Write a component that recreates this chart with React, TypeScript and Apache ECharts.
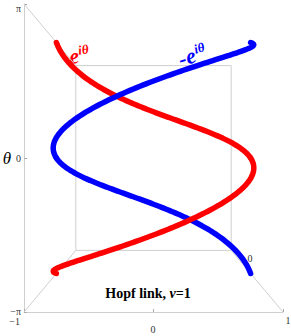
import React, { useEffect, useRef } from "react";
import * as echarts from "echarts";

// Axis tick labels
const xTickLabels = ["−1", "0", "1"];
const thetaTickLabels = ["π", "0", "−π"];
const depthTickLabels = ["0"];
// Curves: z = sign * e^{iθ}, plotted as (Re z, Im z, θ)
const curveLabels = ["e", "-e"];
const curveSigns = [1, -1];
const curveColors = ["#ff0000", "#0000ff"];
const titleText = ["Hopf link, ", "ν", "=1"];
const thetaStart = -Math.PI;
const thetaEnd = Math.PI;
const sampleCount = 240;

// perspective projection of the 3D box (x in [-1,1], depth in [-1,1], θ in [-π,π])
function project(x: number, d: number, th: number): [number, number] {
  const s = 1 / (1 + (d + 1) / 3);
  return [s * x, (s * th) / Math.PI];
}

function curvePoints(sign: number, from: number, to: number): [number, number][] {
  const pts: [number, number][] = [];
  for (let i = 0; i <= sampleCount; i++) {
    const th = thetaStart + ((thetaEnd - thetaStart) * i) / sampleCount;
    if (th < from - 1e-9 || th > to + 1e-9) continue;
    pts.push(project(sign * Math.cos(th), sign * Math.sin(th), th));
  }
  return pts;
}

const P = Math.PI;
const boxEdges: [number, number, number][][] = [
  [[-1, 1, -P], [1, 1, -P], [1, 1, P], [-1, 1, P], [-1, 1, -P]],
  [[-1, -1, P], [-1, 1, P]],
  [[-1, -1, -P], [-1, 1, -P]],
  [[1, -1, -P], [1, 1, -P]],
];

export default function App() {
  const ref = useRef<HTMLDivElement>(null);
  useEffect(() => {
    if (!ref.current) return;
    const chart = echarts.init(ref.current, undefined, { renderer: "svg" });
    const gray = "#cfcfcf";
    const serif = "'Liberation Serif', 'Times New Roman', serif";
    const series: any[] = [];
    boxEdges.forEach((edge) => {
      series.push({
        type: "line",
        data: edge.map((p) => project(p[0], p[1], p[2])),
        symbol: "none",
        silent: true,
        clip: false,
        lineStyle: { color: gray, width: 1 },
      });
    });
    // draw order by depth: far halves first, near halves last
    const segs: [number, number, number][] = [
      [0, 0, P], // red upper (far)
      [1, -P, 0], // blue lower (far)
      [1, 0, P], // blue upper (near)
      [0, -P, 0], // red lower (near)
    ];
    segs.forEach(([ci, a, b]) => {
      series.push({
        type: "line",
        data: curvePoints(curveSigns[ci], a, b),
        symbol: "none",
        silent: true,
        clip: false,
        lineStyle: { color: curveColors[ci], width: 5.5, cap: "round", join: "round" },
      });
    });

    const tickText = (text: string, x: number, y: number, align: string = "center") => ({
      type: "text",
      x,
      y,
      style: { text, fontFamily: serif, fontSize: 10, fill: "#333", align, verticalAlign: "middle" },
    });

    const option: any = {
      animation: false,
      grid: { left: 24, right: 8, top: 4, bottom: 24 },
      xAxis: {
        type: "value",
        min: -1,
        max: 1,
        interval: 1,
        axisLine: { show: true, onZero: false, lineStyle: { color: gray, width: 1 } },
        axisTick: { show: true, inside: true, length: 3, lineStyle: { color: "#aaa" } },
        axisLabel: { show: false },
        splitLine: { show: false },
      },
      yAxis: {
        type: "value",
        min: -1,
        max: 1,
        interval: 1,
        axisLine: { show: true, onZero: false, lineStyle: { color: gray, width: 1 } },
        axisTick: { show: true, inside: true, length: 3, lineStyle: { color: "#aaa" } },
        axisLabel: { show: false },
        splitLine: { show: false },
      },
      series,
      graphic: [
        tickText(thetaTickLabels[0], 21, 8, "right"),
        tickText(thetaTickLabels[1], 21, 158, "right"),
        tickText(thetaTickLabels[2], 21, 311, "right"),
        tickText(xTickLabels[0], 20, 321, "right"),
        tickText(xTickLabels[1], 153, 329),
        tickText(xTickLabels[2], 288, 320),
        tickText(depthTickLabels[0], 250, 258),
        {
          type: "text",
          x: 7,
          y: 158,
          style: { text: "θ", fontFamily: serif, fontStyle: "italic", fontSize: 17, fill: "#000", align: "center", verticalAlign: "middle" },
        },
        {
          type: "group",
          x: 74,
          y: 56,
          rotation: 0.15,
          children: [
            { type: "text", x: 0, y: 0, style: { text: curveLabels[0], fontFamily: serif, fontStyle: "italic", fontWeight: "bold", fontSize: 22, fill: curveColors[0], align: "center", verticalAlign: "middle" } },
            { type: "text", x: 5, y: -5, style: { text: "iθ", fontFamily: serif, fontStyle: "italic", fontWeight: "bold", fontSize: 13, fill: curveColors[0], align: "left", verticalAlign: "middle" } },
          ],
        },
        {
          type: "group",
          x: 187,
          y: 57,
          rotation: 0.3,
          children: [
            { type: "text", x: 0, y: 0, style: { text: curveLabels[1], fontFamily: serif, fontStyle: "italic", fontWeight: "bold", fontSize: 22, fill: curveColors[1], align: "center", verticalAlign: "middle" } },
            { type: "text", x: 9, y: -5, style: { text: "iθ", fontFamily: serif, fontStyle: "italic", fontWeight: "bold", fontSize: 13, fill: curveColors[1], align: "left", verticalAlign: "middle" } },
          ],
        },
        {
          type: "text",
          x: 148,
          y: 293,
          style: {
            text: `{a|${titleText[0]}}{b|${titleText[1]}}{a|${titleText[2]}}`,
            align: "center",
            verticalAlign: "middle",
            rich: {
              a: { fontFamily: serif, fontWeight: "bold", fontSize: 14, fill: "#000", color: "#000" },
              b: { fontFamily: serif, fontWeight: "bold", fontStyle: "italic", fontSize: 14, fill: "#000", color: "#000" },
            },
          },
        },
      ],
    };
    chart.setOption(option);
    return () => chart.dispose();
  }, []);
  return (
    <div
      ref={ref}
      style={{ position: "absolute", left: 0, top: 0, width: 291, height: 336, background: "#fff" }}
    />
  );
}
